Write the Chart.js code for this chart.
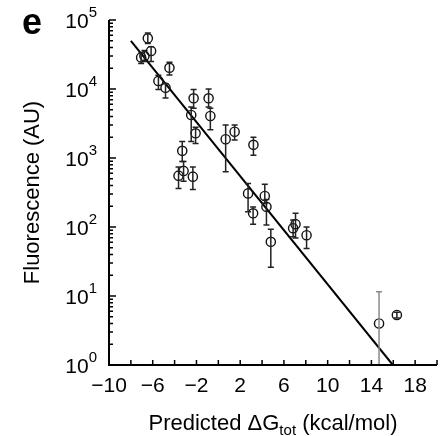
<!DOCTYPE html>
<html><head><meta charset="utf-8">
<script src="https://cdn.jsdelivr.net/npm/chart.js@4"></script>
<style>html,body{margin:0;padding:0;background:#fff}#wrap{width:444px;height:436px;position:relative}</style>
</head><body><div id="wrap"><canvas id="c" width="444" height="436"></canvas></div>
<script>
// ---- data ----
const xValues  = [-7.06, -6.76, -6.45, -6.15, -5.48, -4.83, -4.47, -3.64, -3.18, -3.30, -2.48, -2.33, -2.26, -2.08, -0.89, -0.73, 0.67, 1.49, 2.72, 3.18, 3.21, 4.25, 4.40, 4.80, 6.84, 7.06, 8.07, 14.7, 16.33];
const yValues  = [28700, 30000, 54300, 35600, 13100, 10400, 20300, 555, 650, 1270, 4200, 537, 7330, 2280, 7330, 4060, 1870, 2400, 307, 158, 1550, 282, 196, 61, 96, 110, 76, 4.0, 5.3];
const yErrLow  = [23500, 25000, 45700, 25000, 9800, 7400, 16000, 360, 460, 890, 1740, 350, 5250, 1620, 5500, 2570, 630, 1820, 166, 110, 1100, 219, 107, 26, 72, 69, 49, 0.1, 4.8];
const yErrHigh = [33000, 36000, 64600, 41000, 15800, 12000, 24500, 740, 890, 1740, 5500, 740, 9800, 2800, 10000, 5250, 3000, 3000, 427, 195, 2000, 417, 251, 93, 126, 158, 100, 11.5, 5.8];
const fitX = [-8, 15.96];
const fitY = [50000, 1];
const xTickMarks  = [-10, -8, -6, -4, -2, 0, 2, 4, 6, 8, 10, 12, 14, 16, 18, 20];
const xTickLabels = [-10, -6, -2, 2, 6, 10, 14, 18];
const yTickExponents = [0, 1, 2, 3, 4, 5];
const xTitleMain = 'Predicted \u0394G', xTitleSub = 'tot', xTitleEnd = ' (kcal/mol)';
const yTitle = 'Fluorescence (AU)';
const panelLetter = 'e';
const fadedBars = [27];

const FONT = '"Liberation Sans", Arial, Helvetica, sans-serif';

const decor = {
  id: 'decor',
  afterDatasetsDraw(chart) {
    const ctx = chart.ctx, a = chart.chartArea;
    const xs = chart.scales.x, ys = chart.scales.y;
    ctx.save();
    ctx.beginPath(); ctx.rect(a.left, a.top - 10, a.right - a.left + 10, a.bottom - a.top + 10); ctx.clip();
    ctx.lineWidth = 1.5;
    for (let i = 0; i < xValues.length; i++) {
      const px = xs.getPixelForValue(xValues[i]);
      const lo = Math.min(ys.getPixelForValue(Math.max(yErrLow[i], 0.01)), a.bottom + 5);
      const hi = ys.getPixelForValue(yErrHigh[i]);
      ctx.strokeStyle = fadedBars.includes(i) ? '#8a8a8a' : '#222';
      ctx.beginPath();
      ctx.moveTo(px, lo); ctx.lineTo(px, hi);
      ctx.moveTo(px - 3, hi); ctx.lineTo(px + 3, hi);
      if (lo < a.bottom) { ctx.moveTo(px - 3, lo); ctx.lineTo(px + 3, lo); }
      ctx.stroke();
    }
    ctx.restore();
  },
  afterDraw(chart) {
    const ctx = chart.ctx, a = chart.chartArea;
    const xs = chart.scales.x, ys = chart.scales.y;
    ctx.save();
    ctx.strokeStyle = '#000'; ctx.fillStyle = '#000';
    ctx.lineWidth = 2;
    ctx.beginPath();
    ctx.moveTo(a.left, a.top); ctx.lineTo(a.left, a.bottom); ctx.lineTo(a.right, a.bottom);
    ctx.stroke();
    ctx.lineWidth = 1.5;
    ctx.beginPath();
    xTickMarks.forEach(v => { const p = xs.getPixelForValue(v); ctx.moveTo(p, a.bottom); ctx.lineTo(p, a.bottom - 5); });
    yTickExponents.forEach(e => {
      const p = ys.getPixelForValue(Math.pow(10, e));
      ctx.moveTo(a.left, p); ctx.lineTo(a.left + 7, p);
      if (e < 5) for (let m = 2; m <= 9; m++) {
        const q = ys.getPixelForValue(m * Math.pow(10, e));
        ctx.moveTo(a.left, q); ctx.lineTo(a.left + 4, q);
      }
    });
    ctx.stroke();
    ctx.font = '21px ' + FONT;
    ctx.textAlign = 'center'; ctx.textBaseline = 'alphabetic';
    xTickLabels.forEach(v => {
      const p = xs.getPixelForValue(v);
      ctx.fillText(String(v).replace('-', '\u2212'), p, a.bottom + 27);
    });
    yTickExponents.forEach(e => {
      const p = ys.getPixelForValue(Math.pow(10, e));
      ctx.font = '15px ' + FONT;
      const ew = ctx.measureText(String(e)).width;
      ctx.textAlign = 'right';
      ctx.fillText(String(e), a.left - 12, p - 3);
      ctx.font = '21px ' + FONT;
      ctx.fillText('10', a.left - 12 - ew, p + 7.5);
    });
    ctx.font = '22px ' + FONT;
    const w1 = ctx.measureText(xTitleMain).width, w3 = ctx.measureText(xTitleEnd).width;
    ctx.font = '15px ' + FONT;
    const w2 = ctx.measureText(xTitleSub).width;
    const total = w1 + w2 + w3;
    let sx = (a.left + a.right) / 2 - total / 2;
    const by = 430;
    ctx.textAlign = 'left';
    ctx.font = '22px ' + FONT; ctx.fillText(xTitleMain, sx, by);
    ctx.font = '15px ' + FONT; ctx.fillText(xTitleSub, sx + w1, by + 5);
    ctx.font = '22px ' + FONT; ctx.fillText(xTitleEnd, sx + w1 + w2, by);
    ctx.save();
    ctx.translate(33, (a.top + a.bottom) / 2);
    ctx.rotate(-Math.PI / 2);
    ctx.textAlign = 'center'; ctx.textBaseline = 'middle';
    ctx.font = '22px ' + FONT;
    ctx.fillText(yTitle, 0, 0);
    ctx.restore();
    ctx.font = 'bold 36px ' + FONT;
    ctx.textAlign = 'center'; ctx.textBaseline = 'alphabetic';
    ctx.fillText(panelLetter, 32, 34);
    ctx.restore();
  }
};

new Chart(document.getElementById('c'), {
  type: 'scatter',
  data: {
    datasets: [
      {
        data: xValues.map((x, i) => ({ x, y: yValues[i] })),
        pointStyle: 'circle', pointRadius: 4.6, pointHoverRadius: 4.6,
        borderColor: '#111', backgroundColor: 'rgba(0,0,0,0)', borderWidth: 1.4
      },
      {
        type: 'line',
        data: fitX.map((x, i) => ({ x, y: fitY[i] })),
        borderColor: '#000', borderWidth: 2, pointRadius: 0, fill: false
      }
    ]
  },
  options: {
    responsive: false, animation: false, devicePixelRatio: 1,
    layout: { padding: { left: 109, right: 7, top: 20, bottom: 71 } },
    plugins: { legend: { display: false }, tooltip: { enabled: false } },
    scales: {
      x: { type: 'linear', min: -10, max: 20, display: false },
      y: { type: 'logarithmic', min: 1, max: 100000, display: false }
    }
  },
  plugins: [decor]
});
</script>
</body></html>
